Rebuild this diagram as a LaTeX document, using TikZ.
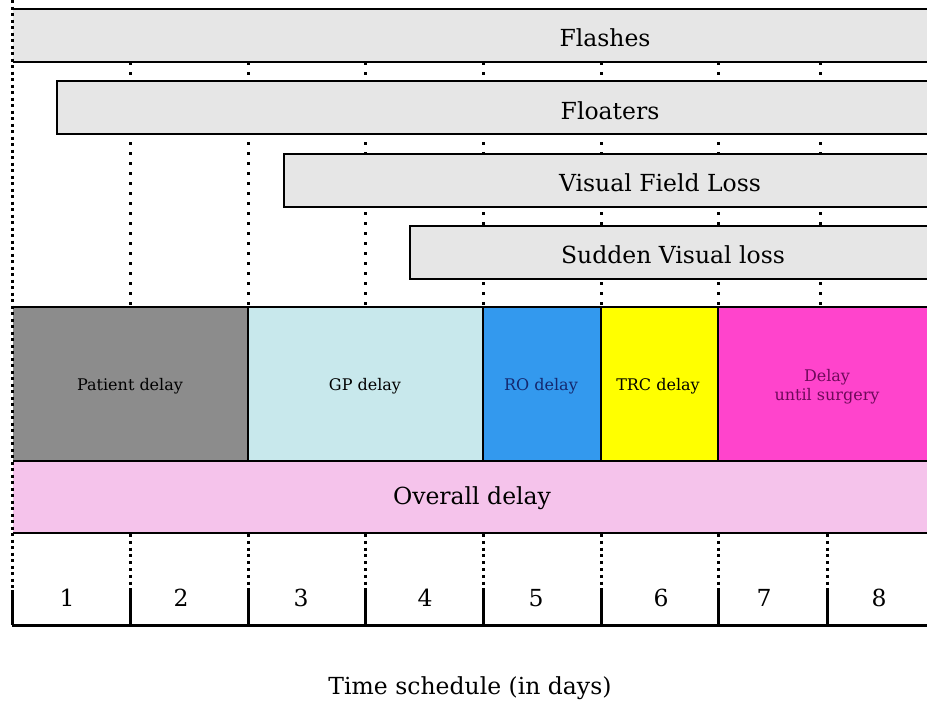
\documentclass[tikz,border=0pt]{standalone}
\usepackage{fontspec}
\setmainfont{DejaVu Serif}
\definecolor{barg}{RGB}{230,230,230}
\definecolor{patg}{RGB}{140,140,140}
\definecolor{gpc}{RGB}{200,232,236}
\definecolor{roc}{RGB}{51,153,238}
\definecolor{trcc}{RGB}{255,255,0}
\definecolor{surc}{RGB}{255,68,204}
\definecolor{ovc}{RGB}{245,195,235}
\definecolor{rotext}{RGB}{20,40,110}
\definecolor{surtext}{RGB}{110,10,90}
\begin{document}
\begin{tikzpicture}[x=1pt,y=-1pt,
  bar/.style={draw=black, line width=1.4pt, fill=barg, anchor=north west, inner sep=0pt, outer sep=0pt, minimum height=53pt},
  cell/.style={draw=black, line width=1.3pt, anchor=north west, inner sep=0pt, outer sep=0pt, minimum height=154pt},
  big/.style={font=\fontsize{23.5}{28}\selectfont},
  small/.style={font=\fontsize{16}{19}\selectfont, align=center},
  gridup/.style={line width=3pt, dash pattern=on 3pt off 7pt},
  griddown/.style={line width=3pt, dash pattern=on 3pt off 3.8pt},
  edge/.style={line width=3pt, dash pattern=on 3pt off 3.5pt},
  axis/.style={line width=3pt},
  lab/.style={inner sep=0pt}
]
\useasboundingbox (0,0) rectangle (927,704);
\clip (0,0) rectangle (927,704);
\fill[white] (0,0) rectangle (927,704);
% upper dotted grid lines
\foreach \x in {130,248,365,483,601,718,820} \draw[gridup] (\x,62) -- (\x,307);
% symptom bars
\node[bar, minimum width=940pt] (flashes) at (12,9) {};
\node[bar, minimum width=900pt] (floaters) at (57,81) {};
\node[bar, minimum width=670pt] (vfl) at (284,154) {};
\node[bar, minimum width=540pt] (svl) at (410,226) {};
\node[lab, big] (tflashes) at (605,38) {Flashes};
\node[lab, big] (tfloaters) at (610,111) {Floaters};
\node[lab, big] (tvfl) at (660,183) {Visual Field Loss};
\node[lab, big] (tsvl) at (673,255) {Sudden Visual loss};
% delay cells
\node[cell, fill=patg, minimum width=236pt] (pat) at (12,307) {};
\node[cell, fill=gpc, minimum width=235pt] (gp) at (248,307) {};
\node[cell, fill=roc, minimum width=118pt] (ro) at (483,307) {};
\node[cell, fill=trcc, minimum width=117pt] (trc) at (601,307) {};
\node[cell, fill=surc, minimum width=240pt] (sur) at (718,307) {};
\node[lab, small] (tpat) at (130,386) {Patient delay};
\node[lab, small] (tgp) at (365,386) {GP delay};
\node[lab, small, text=rotext] (tro) at (541,386) {RO delay};
\node[lab, small] (ttrc) at (658,386) {TRC delay};
\node[lab, small, text=surtext] (tsur) at (827,387) {Delay\\until surgery};
% overall delay
\node[draw=black, line width=1.3pt, fill=ovc, anchor=north west, inner sep=0pt, outer sep=0pt, minimum width=940pt, minimum height=72pt] (ov) at (12,461) {};
\node[lab, big] (tov) at (472,498) {Overall delay};
% left dotted edge
\draw[white, line width=2.5pt] (12,0) -- (12,590);
\draw[edge] (12,0) -- (12,590);
% lower dotted grid lines
\foreach \x in {130,248,365,483,601,718,827} \draw[griddown] (\x,534) -- (\x,590);
% axis
\coordinate (a0) at (12,625);
\coordinate (a1) at (930,625);
\draw[axis] (a0) -- (a1);
\foreach \x in {12,130,248,365,483,601,718,827} \draw[axis] (\x,590) -- (\x,625);
\foreach \n/\x in {1/67,2/181,3/301,4/425,5/536,6/661,7/764,8/879}
  \node[lab, big] (d\n) at (\x,598) {\n};
\node[lab, big] (caption) at (470,688) {Time schedule (in days)};
\end{tikzpicture}
\end{document}
